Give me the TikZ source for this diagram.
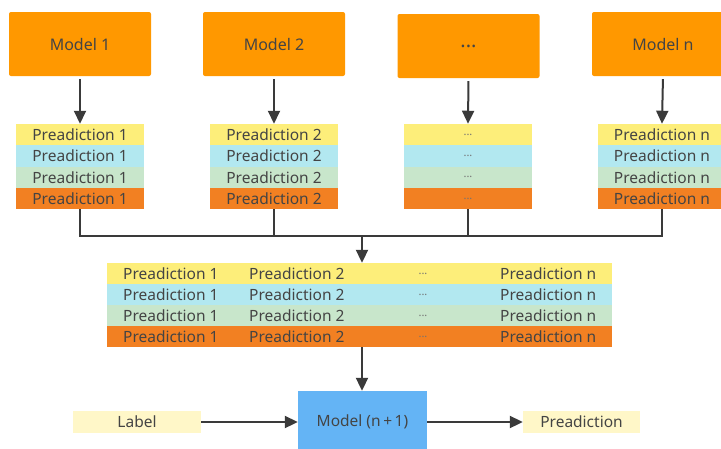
\documentclass[tikz,border=0pt]{standalone}
\usepackage{fontspec}
\setmainfont{Noto Sans}
\usetikzlibrary{arrows.meta}
\definecolor{morange}{HTML}{FF9800}
\definecolor{cyel}{HTML}{FDEE7A}
\definecolor{cblue}{HTML}{B2E8F0}
\definecolor{cgreen}{HTML}{C8E6CB}
\definecolor{corange}{HTML}{F28022}
\definecolor{cpale}{HTML}{FFF7C8}
\definecolor{cmodel}{HTML}{64B4F5}
\definecolor{txt}{HTML}{444444}
\definecolor{lin}{HTML}{3A3A3A}
\begin{document}
\begin{tikzpicture}[x=1pt,y=-1pt,
  modelbox/.style={fill=morange, rounded corners=2pt, minimum width=142pt, minimum height=64pt, inner sep=0pt, text=txt, font=\fontsize{16}{18}\selectfont},
  row/.style={minimum width=128pt, minimum height=21.3pt, inner sep=0pt, text=txt, font=\fontsize{15.5}{17}\selectfont},
  trow/.style={minimum width=505pt, minimum height=21pt, inner sep=0pt},
  ttext/.style={anchor=west, inner sep=0pt, text=txt, font=\fontsize{15.5}{17}\selectfont},
  dots/.style={text=txt!75, font=\fontsize{11}{12}\selectfont},
  smallbox/.style={fill=cpale, minimum height=22pt, inner sep=0pt, text=txt, font=\fontsize{15.5}{17}\selectfont},
  line/.style={draw=lin, line width=2pt},
  arr/.style={line, -{Triangle[length=13pt,width=12pt]}}
]
\clip (0,0) rectangle (721,448);
\fill[white] (0,0) rectangle (721,448);

% models
\node[modelbox] (m1) at (80,44) {Model 1};
\node[modelbox] (m2) at (274,44) {Model 2};
\node[modelbox, font=\fontsize{20}{20}\bfseries] (m3) at (468.5,46) {...};
\node[modelbox] (m4) at (663,44) {Model n};

% stacks
\foreach \c/\t/\n in {80/Preadiction 1/1, 274/Preadiction 2/2, 662/Preadiction n/4}{
  \node[row, fill=cyel] (s\n-1) at (\c,134.6) {\t};
  \node[row, fill=cblue] (s\n-2) at (\c,155.9) {\t};
  \node[row, fill=cgreen] (s\n-3) at (\c,177.2) {\t};
  \node[row, fill=corange] (s\n-4) at (\c,198.5) {\t};
}
\node[row, dots, fill=cyel] (s3-1) at (468,134.6) {...};
\node[row, dots, fill=cblue] (s3-2) at (468,155.9) {...};
\node[row, dots, fill=cgreen] (s3-3) at (468,177.2) {...};
\node[row, dots, fill=corange] (s3-4) at (468,198.5) {...};

\foreach \n in {1,2,3,4}{
  \draw[arr, shorten <=3pt] (m\n.south) -- (s\n-1.north);
}

% bus
\coordinate (bus) at (362,236);
\draw[line] (s1-4.south) |- (bus);
\draw[line] (s4-4.south) |- (bus);
\draw[line] (s2-4.south) -- (s2-4.south |- bus);
\draw[line] (s3-4.south) -- (s3-4.south |- bus);

% table
\node[trow, fill=cyel] (t1) at (359.5,273.5) {};
\node[trow, fill=cblue] (t2) at (359.5,294.5) {};
\node[trow, fill=cgreen] (t3) at (359.5,315.5) {};
\node[trow, fill=corange] (t4) at (359.5,336.5) {};
\foreach \k in {1,2,3,4}{
  \node[ttext] (t\k-a) at (123,{252.5+21*\k}) {Preadiction 1};
  \node[ttext] (t\k-b) at (249,{252.5+21*\k}) {Preadiction 2};
  \node[ttext, dots, anchor=center] (t\k-c) at (423,{252.5+21*\k}) {...};
  \node[ttext] (t\k-d) at (500,{252.5+21*\k}) {Preadiction n};
}
\draw[arr] (bus) -- (bus |- t1.north);

% final
\node[fill=cmodel, minimum width=129pt, minimum height=62pt, inner sep=0pt, text=txt, font=\fontsize{15.5}{17}\selectfont] (mn) at (362.5,422) {Model (n\,+\,1)};
\node[smallbox, minimum width=128pt] (lab) at (137,422) {Label};
\node[smallbox, minimum width=117pt] (pred) at (581.5,422) {Preadiction};
\draw[arr] (bus |- t4.south) -- (bus |- mn.north);
\draw[arr] (lab) -- (mn);
\draw[arr] (mn) -- (pred);
\end{tikzpicture}
\end{document}
